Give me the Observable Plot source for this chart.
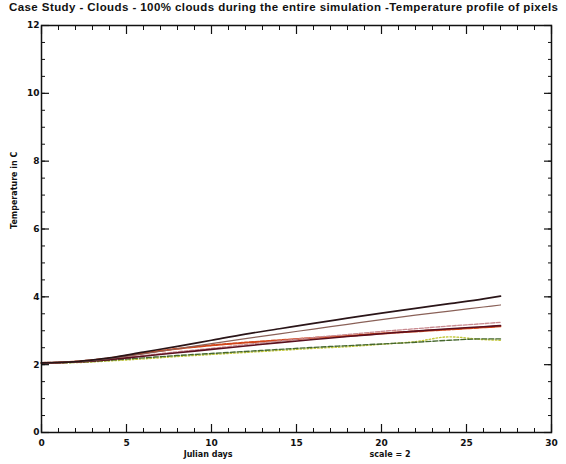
<!DOCTYPE html>
<html>
<head>
<meta charset="utf-8">
<script src="https://cdn.jsdelivr.net/npm/d3@7"></script>
<script src="https://cdn.jsdelivr.net/npm/@observablehq/plot@0.6"></script>
<style>
  html, body { margin: 0; padding: 0; background: #fff; overflow: hidden; }
  #wrap { position: relative; width: 566px; height: 464px; }
  #title { position: absolute; top: 1px; left: 9px; white-space: nowrap;
           font: bold 11.5px "Liberation Sans", sans-serif; letter-spacing: 0.42px; color: #111; }
</style>
</head>
<body>
<div id="wrap"><div id="title"></div></div>
<script>
const title = "Case Study - Clouds - 100% clouds during the entire simulation -Temperature profile of pixels";
const xLabel = "Julian days";
const xNote = "scale = 2";
const yLabel = "Temperature in C";
const days = [0, 2, 4, 6, 8, 10, 12, 14, 16, 18, 20, 22, 24, 26, 27];
const serA = [2.05, 2.09, 2.20, 2.37, 2.54, 2.72, 2.90, 3.06, 3.22, 3.37, 3.52, 3.66, 3.80, 3.94, 4.02];
const serB = [2.05, 2.08, 2.18, 2.32, 2.47, 2.62, 2.77, 2.91, 3.05, 3.19, 3.33, 3.46, 3.58, 3.70, 3.76];
const serC = [2.05, 2.08, 2.16, 2.27, 2.38, 2.48, 2.59, 2.70, 2.80, 2.89, 2.98, 3.06, 3.14, 3.21, 3.25];
const serD = [2.05, 2.08, 2.15, 2.25, 2.35, 2.45, 2.55, 2.65, 2.74, 2.83, 2.91, 2.99, 3.06, 3.12, 3.15];
const serG = [2.05, 2.09, 2.19, 2.34, 2.47, 2.57, 2.65, 2.72, 2.79, 2.85, 2.92, 2.98, 3.04, 3.10, 3.13];
const serE = [2.05, 2.07, 2.13, 2.20, 2.27, 2.33, 2.39, 2.45, 2.51, 2.56, 2.61, 2.66, 2.72, 2.76, 2.76];
const serF = [2.05, 2.06, 2.11, 2.17, 2.24, 2.30, 2.36, 2.42, 2.48, 2.53, 2.60, 2.68, 2.82, 2.74, 2.72];
const xMajor = [0, 5, 10, 15, 20, 25, 30];
const xMinor = d3.range(0, 31, 1);
const yMajor = [0, 2, 4, 6, 8, 10, 12];
const yMinor = d3.range(0, 12.01, 0.5);

const styles = {
  F: {stroke: "#c2c83a", width: 1.4, dash: "1.5,2"},
  E: {stroke: "#46682e", width: 1.4, dash: "5,2"},
  G: {stroke: "#d2461a", width: 2.0, dash: "4,1.5"},
  C: {stroke: "#c98a90", width: 1.3, dash: "4,1.5"},
  D: {stroke: "#5a0f1e", width: 1.6, dash: null},
  B: {stroke: "#8a6158", width: 1.2, dash: null},
  A: {stroke: "#2a1518", width: 1.7, dash: null}
};
const all = {A: serA, B: serB, C: serC, D: serD, G: serG, E: serE, F: serF};
const drawOrder = ["F", "E", "G", "C", "D", "B", "A"];

document.getElementById("title").textContent = title;

const font = "DejaVu Sans, sans-serif";
const lineMarks = drawOrder.map(k => {
  const rows = days.map((d, i) => ({day: d, t: all[k][i]}));
  const s = styles[k];
  return Plot.line(rows, {x: "day", y: "t", stroke: s.stroke, strokeWidth: s.width,
    strokeDasharray: s.dash || undefined, curve: "monotone-x"});
});

const chart = Plot.plot({
  width: 566, height: 464,
  marginLeft: 41, marginRight: 15, marginTop: 25, marginBottom: 32,
  x: {domain: [0, 30]}, y: {domain: [0, 12]},
  style: {fontFamily: font, fontSize: "9px", fontWeight: "bold", color: "#111", background: "white"},
  marks: [
    ...lineMarks,
    Plot.axisX(xMinor, {anchor: "bottom", tickSize: -4, text: null, label: null, stroke: "#111"}),
    Plot.axisX(xMajor, {anchor: "bottom", tickSize: -8, tickPadding: 15, label: null, stroke: "#111", strokeWidth: 1.2}),
    Plot.axisX(xMinor, {anchor: "top", tickSize: -4, text: null, label: null, stroke: "#111"}),
    Plot.axisX(xMajor, {anchor: "top", tickSize: -8, text: null, label: null, stroke: "#111", strokeWidth: 1.2}),
    Plot.axisY(yMinor, {anchor: "left", tickSize: -4, text: null, label: null, stroke: "#111"}),
    Plot.axisY(yMajor, {anchor: "left", tickSize: -8, tickPadding: 10, label: null, stroke: "#111", strokeWidth: 1.2}),
    Plot.axisY(yMinor, {anchor: "right", tickSize: -4, text: null, label: null, stroke: "#111"}),
    Plot.axisY(yMajor, {anchor: "right", tickSize: -8, text: null, label: null, stroke: "#111", strokeWidth: 1.2}),
    Plot.frame({stroke: "#111", strokeWidth: 1.5}),
    Plot.text([xLabel], {x: [9.8], frameAnchor: "bottom", dy: 24, fontSize: 8, fill: "#111"}),
    Plot.text([xNote], {x: [20.5], frameAnchor: "bottom", dy: 24, fontSize: 8, fill: "#111"}),
    Plot.text([yLabel], {frameAnchor: "left", dx: -27, rotate: -90, fontSize: 8, fill: "#111"})
  ]
});
document.getElementById("wrap").appendChild(chart);
</script>
</body>
</html>
